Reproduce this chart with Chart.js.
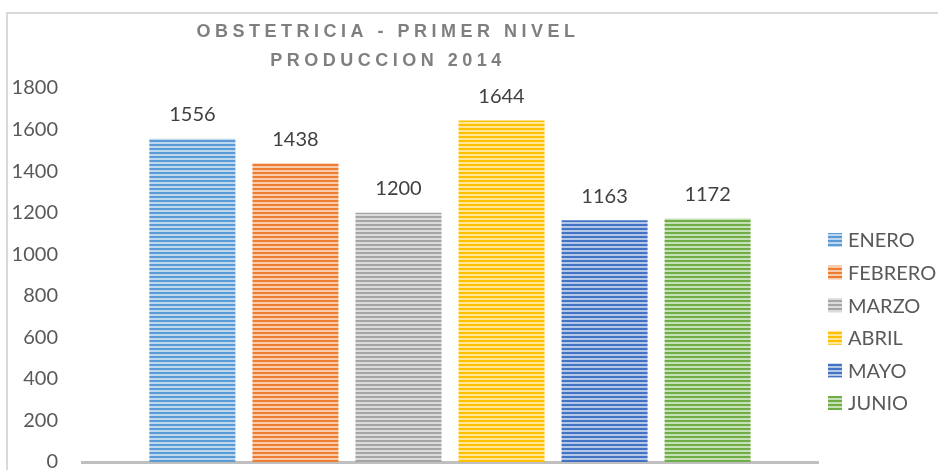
<!DOCTYPE html>
<html>
<head>
<meta charset="utf-8">
<script src="https://cdn.jsdelivr.net/npm/chart.js@4/dist/chart.umd.min.js"></script>
<style>
  html, body { margin: 0; padding: 0; background: #fff; }
  #wrap { width: 938px; height: 470px; position: relative; }
</style>
</head>
<body>
<div id="wrap"><canvas id="chart"></canvas></div>
<script>
// --- Data ---
const months = ['ENERO', 'FEBRERO', 'MARZO', 'ABRIL', 'MAYO', 'JUNIO'];
const production = [1556, 1438, 1200, 1644, 1163, 1172];
const baseColors = ['#5B9BD5', '#ED7D31', '#A5A5A5', '#FFC000', '#4472C4', '#70AD47'];
const lightColors = ['#BDD7EE', '#F8CBAD', '#DBDBDB', '#FFE699', '#B4C7E7', '#C5E0B4'];
const titleLines = ['OBSTETRICIA - PRIMER NIVEL', 'PRODUCCION 2014'];
const yTicks = [0, 200, 400, 600, 800, 1000, 1200, 1400, 1600, 1800];

// horizontal striped fill like the Excel pattern
function stripes(base, light) {
    const c = document.createElement('canvas');
    c.width = 4; c.height = 4;
    const g = c.getContext('2d');
    g.fillStyle = light; g.fillRect(0, 0, 4, 4);
    g.fillStyle = base; g.fillRect(0, 0, 4, 2);
    return g.createPattern(c, 'repeat');
}
const fills = baseColors.map((c, i) => stripes(c, lightColors[i]));

const font = 'Lato, "Open Sans", sans-serif';

// --- Plugin: frame, title, value labels, legend ---
const decor = {
    id: 'decor',
    beforeDraw(chart) {
        const ctx = chart.ctx;
        ctx.save();
        ctx.strokeStyle = '#d9d9d9';
        ctx.lineWidth = 2;
        ctx.beginPath();
        ctx.moveTo(7, 470); ctx.lineTo(7, 13); ctx.lineTo(938, 13);
        ctx.stroke();
        ctx.restore();
    },
    afterDraw(chart) {
        const ctx = chart.ctx;
        ctx.save();
        // title
        ctx.fillStyle = '#7f7f7f';
        ctx.font = 'bold 18px "Liberation Sans", Arial, sans-serif';
        ctx.textAlign = 'center';
        ctx.textBaseline = 'middle';
        ctx.letterSpacing = '4.5px';
        ctx.fillText(titleLines[0], 388, 32);
        ctx.fillText(titleLines[1], 388, 61);
        ctx.letterSpacing = '0px';

        // value labels
        ctx.fillStyle = '#404040';
        ctx.font = '20px ' + font;
        chart.data.datasets.forEach((ds, i) => {
            const bar = chart.getDatasetMeta(i).data[0];
            ctx.fillText(String(ds.data[0]), bar.x, bar.y - 24);
        });

        // legend
        ctx.textAlign = 'left';
        months.forEach((m, i) => {
            const y = 240 + i * 32.6;
            ctx.fillStyle = fills[i];
            ctx.fillRect(828, y - 7, 14, 14);
            ctx.fillStyle = '#595959';
            ctx.fillText(m, 848, y + 1);
        });
        ctx.restore();
    }
};

new Chart(document.getElementById('chart'), {
    type: 'bar',
    data: {
        labels: [''],
        datasets: months.map((m, i) => ({
            label: m,
            data: [production[i]],
            backgroundColor: fills[i],
            borderWidth: 0,
            categoryPercentage: 0.84,
            barPercentage: 0.835
        }))
    },
    options: {
        responsive: true,
        maintainAspectRatio: false,
        animation: false,
        layout: { padding: { top: 88, right: 120, left: 0, bottom: 0 } },
        plugins: {
            legend: { display: false },
            title: { display: false },
            tooltip: { enabled: false }
        },
        scales: {
            x: {
                grid: { display: false, drawTicks: false },
                border: { display: true, color: '#bfbfbf', width: 3 },
                ticks: { display: false },
                afterFit: s => { s.height = 8; }
            },
            y: {
                min: 0,
                max: 1800,
                grid: { display: false, drawTicks: true, tickLength: 24 },
                border: { display: false },
                afterBuildTicks: s => { s.ticks = yTicks.map(v => ({ value: v })); },
                ticks: {
                    color: '#595959',
                    font: { family: font, size: 20, lineHeight: 0.8 },
                    padding: 0,
                    callback: v => String(v)
                },
                afterFit: s => { s.width = 82; }
            }
        }
    },
    plugins: [decor]
});
</script>
</body>
</html>
